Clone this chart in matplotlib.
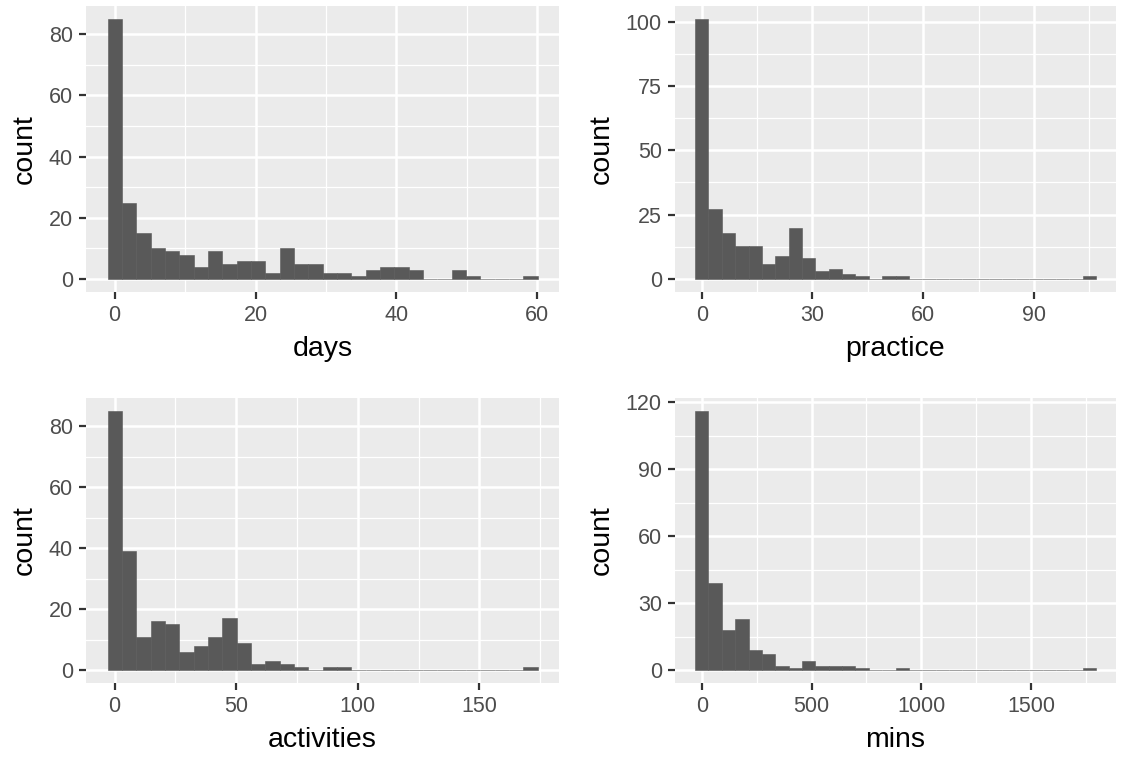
import matplotlib
matplotlib.use("Agg")
import matplotlib.pyplot as plt
import numpy as np

plt.rcParams['font.family'] = ['Liberation Sans', 'DejaVu Sans']

# ---- data (30 bins each, ggplot2 default) ----
days_range = (0, 59)
days_counts = [85, 25, 15, 10, 9, 8, 4, 9, 5, 6, 6, 2, 10, 5, 5, 2, 2, 1, 3, 4,
               4, 3, 0, 0, 3, 1, 0, 0, 0, 1]
days_breaks = [0, 20, 40, 60]
days_ybreaks = [0, 20, 40, 60, 80]

practice_range = (0, 105)
practice_counts = [101, 27, 18, 13, 13, 6, 9, 20, 8, 3, 4, 2, 1, 0, 1, 1, 0, 0, 0, 0,
                   0, 0, 0, 0, 0, 0, 0, 0, 0, 1]
practice_breaks = [0, 30, 60, 90]
practice_ybreaks = [0, 25, 50, 75, 100]

activities_range = (0, 171)
activities_counts = [85, 39, 11, 16, 15, 6, 8, 11, 17, 9, 2, 3, 2, 1, 0, 1, 1, 0, 0, 0,
                     0, 0, 0, 0, 0, 0, 0, 0, 0, 1]
activities_breaks = [0, 50, 100, 150]
activities_ybreaks = [0, 20, 40, 60, 80]

mins_range = (0, 1765)
mins_counts = [116, 39, 18, 23, 9, 7, 2, 1, 4, 2, 2, 2, 1, 0, 0, 1, 0, 0, 0, 0,
               0, 0, 0, 0, 0, 0, 0, 0, 0, 1]
mins_breaks = [0, 500, 1000, 1500]
mins_ybreaks = [0, 30, 60, 90, 120]

panels = [
    ("days", days_range, days_counts, days_breaks, days_ybreaks),
    ("practice", practice_range, practice_counts, practice_breaks, practice_ybreaks),
    ("activities", activities_range, activities_counts, activities_breaks, activities_ybreaks),
    ("mins", mins_range, mins_counts, mins_breaks, mins_ybreaks),
]

W, H = 1126, 757
fig = plt.figure(figsize=(W / 100, H / 100), dpi=100)
fig.patch.set_facecolor('white')

# panel boxes in pixels: left, top, right, bottom
boxes = [
    (86, 6, 559, 292),
    (675, 6, 1116, 292),
    (86, 398, 559, 683),
    (675, 398, 1116, 683),
]


def minor_between(breaks):
    step = breaks[1] - breaks[0]
    vals = [breaks[0] - step / 2] + [b + step / 2 for b in breaks]
    return vals


for (name, rng, counts, xb, yb), (l, t, r, b) in zip(panels, boxes):
    ax = fig.add_axes([l / W, 1 - b / H, (r - l) / W, (b - t) / H])
    n = len(counts)
    width = (rng[1] - rng[0]) / (n - 1)
    centers = rng[0] + width * np.arange(n)
    lo, hi = centers[0] - width / 2, centers[-1] + width / 2
    xr = hi - lo
    ax.set_xlim(lo - 0.05 * xr, hi + 0.05 * xr)
    ymax = max(counts)
    ax.set_ylim(-0.05 * ymax, 1.05 * ymax)

    ax.set_facecolor('#EBEBEB')
    for s in ax.spines.values():
        s.set_visible(False)

    xmin_l, xmax_l = ax.get_xlim()
    ymin_l, ymax_l = ax.get_ylim()
    for v in minor_between(xb):
        if xmin_l < v < xmax_l:
            ax.axvline(v, color='white', lw=0.9, zorder=0.5)
    for v in minor_between(yb):
        if ymin_l < v < ymax_l:
            ax.axhline(v, color='white', lw=0.9, zorder=0.5)
    for v in xb:
        ax.axvline(v, color='white', lw=1.8, zorder=0.6)
    for v in yb:
        ax.axhline(v, color='white', lw=1.8, zorder=0.6)

    ax.bar(centers, counts, width=width, color='#595959', edgecolor='#595959',
           linewidth=0.4, zorder=2)

    ax.set_xticks(xb)
    ax.set_yticks(yb)
    ax.set_xticklabels([str(v) for v in xb])
    ax.set_yticklabels([str(v) for v in yb])
    ax.tick_params(axis='both', colors='#333333', length=5, width=1.6,
                   labelsize=15.5, labelcolor='#4D4D4D', pad=4.5)
    ax.set_xlabel(name, fontsize=20.5, color='black', labelpad=7)
    ax.set_ylabel('count', fontsize=20.5, color='black', labelpad=8)

fig.savefig('out.png', dpi=100)
